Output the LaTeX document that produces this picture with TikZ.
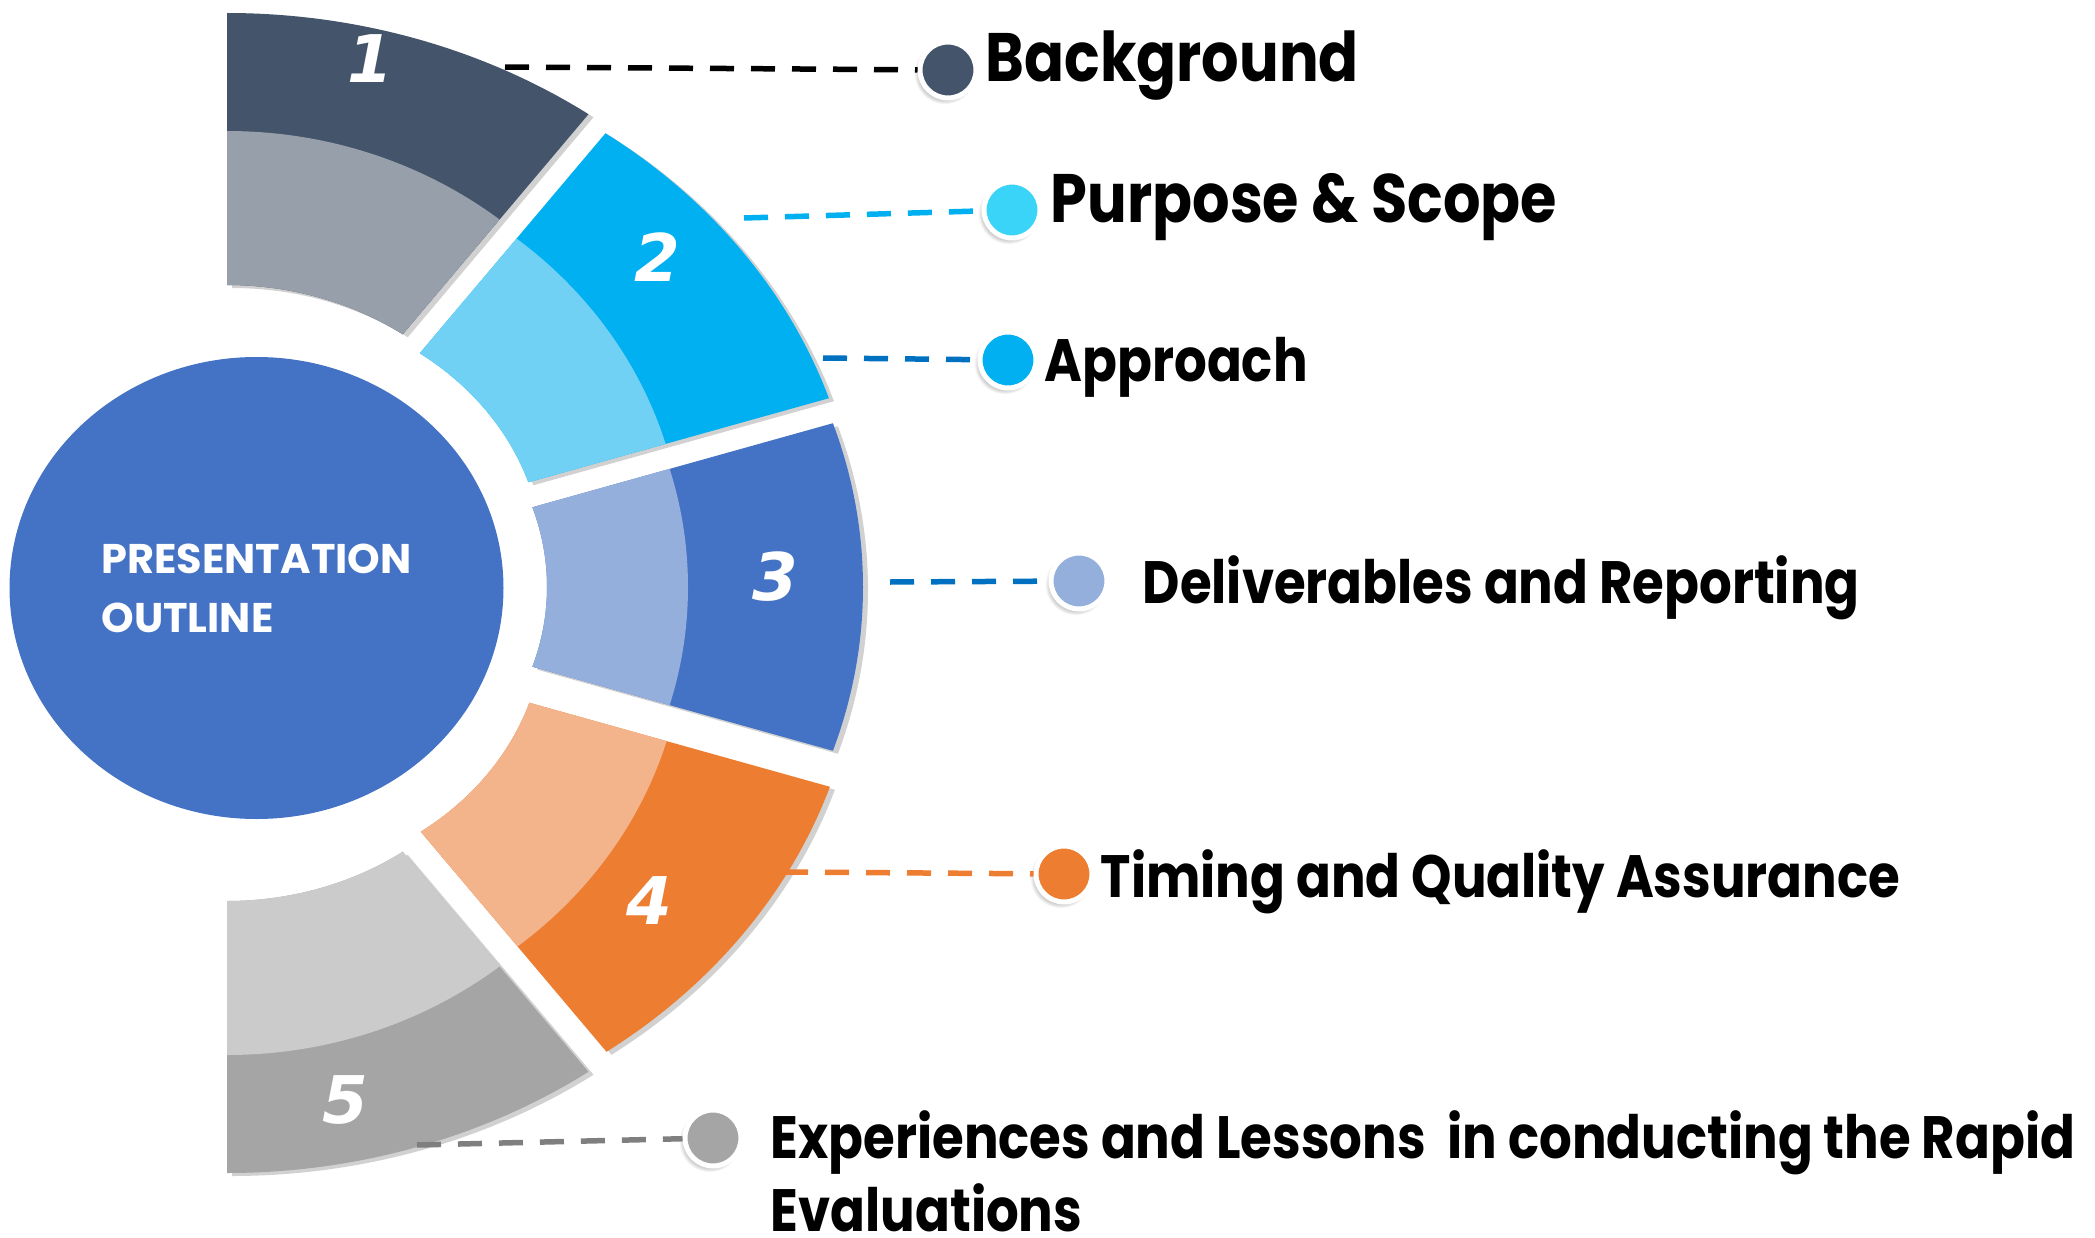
\documentclass[tikz,border=0pt]{standalone}
\usepackage{fontspec}
\setmainfont{Poppins}
\newfontfamily\labelfont{Poppins}[FakeStretch=0.86]
\newfontfamily\numfont{DejaVu Sans}
\usetikzlibrary{calc,shapes.geometric,shadows}

\definecolor{slate}{HTML}{44546A}
\definecolor{slatelight}{HTML}{979FAB}
\definecolor{sky}{HTML}{00B0F0}
\definecolor{skylight}{HTML}{70D1F5}
\definecolor{skydot}{HTML}{3AD4F8}
\definecolor{royal}{HTML}{4472C4}
\definecolor{royallight}{HTML}{95AFDC}
\definecolor{ocean}{HTML}{0070C0}
\definecolor{tangerine}{HTML}{ED7D31}
\definecolor{tangerinelight}{HTML}{F3B48B}
\definecolor{stone}{HTML}{A5A5A5}
\definecolor{stonelight}{HTML}{CBCBCB}
\definecolor{stonedark}{HTML}{7F7F7F}

\tikzset{
  segshadow/.style={drop shadow={shadow xshift=0.05cm, shadow yshift=-0.03cm, opacity=0.18, fill=black}},
  leader/.style={line width=0.055cm, dash pattern=on 0.24cm off 0.17cm},
  itemdot/.style={circle, draw=white, line width=0.05cm, minimum size=0.56cm, inner sep=0pt,
    circular drop shadow={shadow xshift=-0.03cm, shadow yshift=-0.03cm, shadow scale=1.1, opacity=0.4}},
  itemtext/.style={anchor=base west, inner sep=0pt, font=\labelfont\bfseries\fontsize{17}{20}\selectfont},
  bigtext/.style={itemtext, font=\labelfont\bfseries\fontsize{19.5}{23}\selectfont},
  numtext/.style={text=white, inner sep=0pt, font=\numfont\bfseries\itshape\fontsize{18.7}{22}\selectfont},
  hub/.style={ellipse, fill=royal, minimum width=4.94cm, minimum height=4.62cm, inner sep=0pt,
    text=white, align=left, font=\bfseries\fontsize{11.8}{16.8}\selectfont},
}

% one piece of the ring: centre, start angle, end angle, outer colour, inner colour
\newcommand{\ringpart}[5]{%
  \fill[#4, segshadow] ($(#1)+(#2:6.15 and 5.30)$) arc[start angle=#2, end angle=#3, x radius=6.15, y radius=5.30]
    -- ($(#1)+(#3:2.99 and 2.58)$) arc[start angle=#3, end angle=#2, x radius=2.99, y radius=2.58] -- cycle;
  \begin{scope}
    \clip ($(#1)+(#2:6.15 and 5.30)$) arc[start angle=#2, end angle=#3, x radius=6.15, y radius=5.30]
      -- ($(#1)+(#3:2.99 and 2.58)$) arc[start angle=#3, end angle=#2, x radius=2.99, y radius=2.58] -- cycle;
    \fill[#5] (#1) ellipse[x radius=4.40, y radius=4.12];
  \end{scope}}

\begin{document}
\begin{tikzpicture}
    \useasboundingbox (0,0) rectangle (20.95,12.37);
    % centres of the ring pieces (each one pulled out a bit)
    \coordinate (c1) at (2.27,6.94);
    \coordinate (c2) at (2.44,6.75);
    \coordinate (c3) at (2.48,6.50);
    \coordinate (c4) at (2.45,6.14);
    \coordinate (c5) at (2.27,5.94);
    % ring
    \ringpart{c1}{90}{54}{slate}{slatelight}
    \ringpart{c2}{54}{18}{sky}{skylight}
    \ringpart{c3}{18}{-18}{royal}{royallight}
    \ringpart{c4}{-18}{-54}{tangerine}{tangerinelight}
    \ringpart{c5}{-54}{-90}{stone}{stonelight}
    % numbers
    \node[numtext] (n1) at (3.70,11.78) {1};
    \node[numtext] (n2) at (6.57,9.80) {2};
    \node[numtext] (n3) at (7.75,6.60) {3};
    \node[numtext] (n4) at (6.49,3.36) {4};
    \node[numtext] (n5) at (3.45,1.37) {5};
    % middle
    \node[hub] (hub) at (2.565,6.49) {PRESENTATION\\OUTLINE};
    % leader start points
    \coordinate (sA) at (5.05,11.70);
    \coordinate (sB) at (7.44,10.19);
    \coordinate (sC) at (8.23,8.79);
    \coordinate (sD) at (8.90,6.55);
    \coordinate (sE) at (7.84,3.65);
    \coordinate (sF) at (4.17,0.92);
    % dots
    \node[itemdot, fill=slate] (dA) at (9.48,11.67) {};
    \node[itemdot, fill=skydot] (dB) at (10.12,10.27) {};
    \node[itemdot, fill=sky] (dC) at (10.08,8.77) {};
    \node[itemdot, fill=royallight] (dD) at (10.79,6.56) {};
    \node[itemdot, fill=tangerine] (dE) at (10.64,3.63) {};
    \node[itemdot, fill=stone] (dF) at (7.13,0.99) {};
    % leaders
    \draw[leader, black] (sA) -- (dA);
    \draw[leader, sky] (sB) -- (dB);
    \draw[leader, ocean] (sC) -- (dC);
    \draw[leader, ocean] (sD) -- (dD);
    \draw[leader, tangerine] (sE) -- (dE);
    \draw[leader, stonedark] (sF) -- (dF);
    % labels
    \node[bigtext] (tA) at (9.85,11.55) {Background};
    \node[bigtext] (tB) at (10.50,10.15) {Purpose \& Scope};
    \node[itemtext] (tC) at (10.44,8.56) {Approach};
    \node[itemtext] (tD) at (11.42,6.34) {Deliverables and Reporting};
    \node[itemtext] (tE) at (11.00,3.40) {Timing and Quality Assurance};
    \node[itemtext, align=left, font=\labelfont\bfseries\fontsize{17}{20.5}\selectfont] (tF) at (7.70,0.06)
        {Experiences and Lessons~ in conducting the Rapid\\Evaluations};
\end{tikzpicture}
\end{document}
